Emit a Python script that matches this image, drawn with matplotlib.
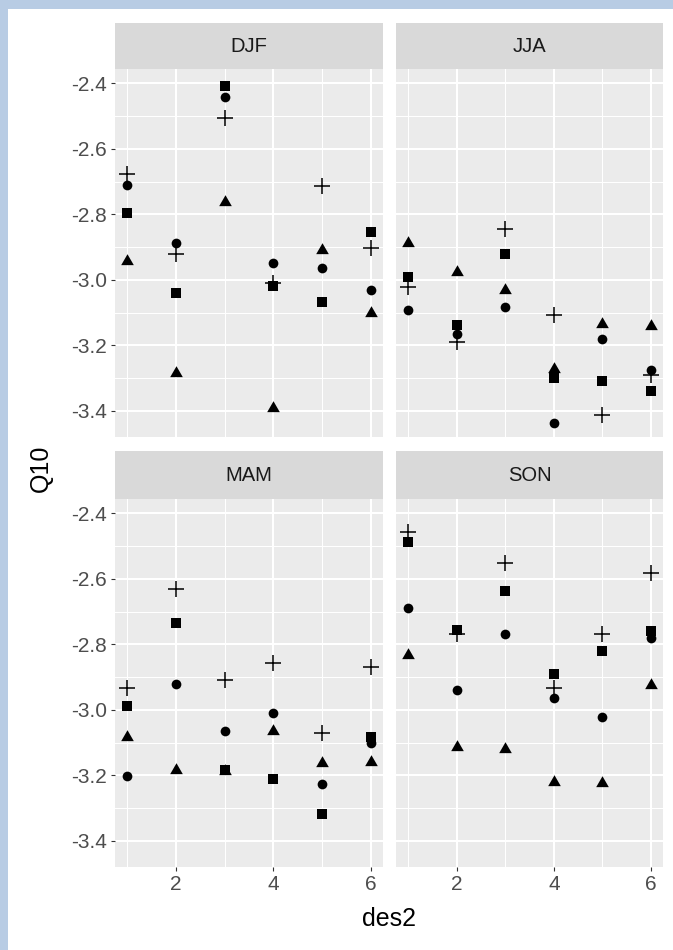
import matplotlib
matplotlib.use("Agg")
import matplotlib.pyplot as plt
from matplotlib.patches import Rectangle

plt.rcParams['font.family'] = ['Liberation Sans', 'DejaVu Sans']

des2 = [1, 2, 3, 4, 5, 6]
seasons = ["DJF", "JJA", "MAM", "SON"]

# values, one list per marker group
djf_circle = [-2.709, -2.886, -2.441, -2.950, -2.963, -3.032]
djf_triangle = [-2.941, -3.284, -2.762, -3.391, -2.910, -3.100]
djf_square = [-2.797, -3.040, -2.408, -3.018, -3.069, -2.855]
djf_plus = [-2.678, -2.921, -2.507, -3.011, -2.714, -2.902]

jja_circle = [-3.092, -3.164, -3.082, -3.436, -3.182, -3.276]
jja_triangle = [-2.888, -2.976, -3.030, -3.272, -3.136, -3.142]
jja_square = [-2.991, -3.138, -2.921, -3.299, -3.309, -3.339]
jja_plus = [-3.021, -3.189, -2.845, -3.106, -3.413, -3.291]

mam_circle = [-3.201, -2.922, -3.064, -3.011, -3.225, -3.100]
mam_triangle = [-3.083, -3.183, -3.186, -3.066, -3.162, -3.160]
mam_square = [-2.989, -2.736, -3.184, -3.210, -3.317, -3.082]
mam_plus = [-2.933, -2.631, -2.909, -2.856, -3.070, -2.870]

son_circle = [-2.690, -2.940, -2.769, -2.963, -3.023, -2.782]
son_triangle = [-2.834, -3.114, -3.119, -3.221, -3.224, -2.923]
son_square = [-2.487, -2.756, -2.637, -2.889, -2.821, -2.758]
son_plus = [-2.458, -2.767, -2.551, -2.933, -2.769, -2.583]

panel_data = {
    "DJF": (djf_circle, djf_triangle, djf_square, djf_plus),
    "JJA": (jja_circle, jja_triangle, jja_square, jja_plus),
    "MAM": (mam_circle, mam_triangle, mam_square, mam_plus),
    "SON": (son_circle, son_triangle, son_square, son_plus),
}

y_ticks = [-2.4, -2.6, -2.8, -3.0, -3.2, -3.4]
y_minor = [-2.5, -2.7, -2.9, -3.1, -3.3]
x_ticks = [2, 4, 6]
x_minor = [1, 3, 5]

W, H = 673, 950
fig = plt.figure(figsize=(W / 100, H / 100), dpi=100)
fig.patch.set_facecolor("white")

# light blue frame on the left and top
fig.add_artist(Rectangle((0, 0), 8 / W, 1, transform=fig.transFigure,
                         facecolor="#B8CCE4", edgecolor="none"))
fig.add_artist(Rectangle((0, 1 - 9 / H), 1, 9 / H, transform=fig.transFigure,
                         facecolor="#B8CCE4", edgecolor="none"))


def box(x0, y0, x1, y1):
    # pixel box (top-left origin) -> figure fraction rect
    return [x0 / W, 1 - y1 / H, (x1 - x0) / W, (y1 - y0) / H]


cols = [(115, 383), (396, 663)]
rows = [((23, 69), (69, 437)), ((451, 499), (499, 867))]

markers = [
    dict(marker="o", ms=7.0, mfc="black", mec="black", mew=0),
    dict(marker=(3, 0, 0), ms=10.5, mfc="black", mec="black", mew=0),
    dict(marker="s", ms=7.4, mfc="black", mec="black", mew=0),
    dict(marker="+", ms=11.5, mec="black", mew=1.1),
]

for i, season in enumerate(seasons):
    r, c = divmod(i, 2)
    (sy0, sy1), (py0, py1) = rows[r]
    x0, x1 = cols[c]

    strip = fig.add_axes(box(x0, sy0, x1, sy1))
    strip.set_facecolor("#D9D9D9")
    strip.set_xticks([])
    strip.set_yticks([])
    for s in strip.spines.values():
        s.set_visible(False)
    strip.text(0.5, 0.5, season, ha="center", va="center", fontsize=14.5,
               color="#1A1A1A", transform=strip.transAxes)

    ax = fig.add_axes(box(x0, py0, x1, py1))
    ax.set_facecolor("#EBEBEB")
    for s in ax.spines.values():
        s.set_visible(False)
    for v in y_minor:
        ax.axhline(v, color="white", lw=0.75, zorder=0)
    for v in y_ticks:
        ax.axhline(v, color="white", lw=1.5, zorder=0)
    for v in x_minor:
        ax.axvline(v, color="white", lw=0.75, zorder=0)
    for v in x_ticks:
        ax.axvline(v, color="white", lw=1.5, zorder=0)

    for vals, mk in zip(panel_data[season], markers):
        ax.plot(des2, vals, linestyle="none", zorder=3, **mk)

    ax.set_xlim(0.755, 6.245)
    ax.set_ylim(-3.48, -2.356)
    ax.set_xticks(x_ticks)
    ax.set_yticks(y_ticks)
    ax.tick_params(length=3, width=0.8, color="#333333", labelcolor="#4D4D4D",
                   labelsize=15, pad=2.5)
    if r == 0:
        ax.tick_params(axis="x", length=0, labelbottom=False)
    else:
        ax.set_xticklabels([str(v) for v in x_ticks])
    if c == 1:
        ax.tick_params(axis="y", length=0, labelleft=False)
    else:
        ax.set_yticklabels(["%.1f" % v for v in y_ticks])

fig.text(41 / W, 1 - 468 / H, "Q10", rotation=90, ha="center", va="center",
         fontsize=18, color="black")
fig.text(389 / W, 1 - 919 / H, "des2", ha="center", va="center",
         fontsize=18, color="black")

fig.savefig("out.png", dpi=100)
